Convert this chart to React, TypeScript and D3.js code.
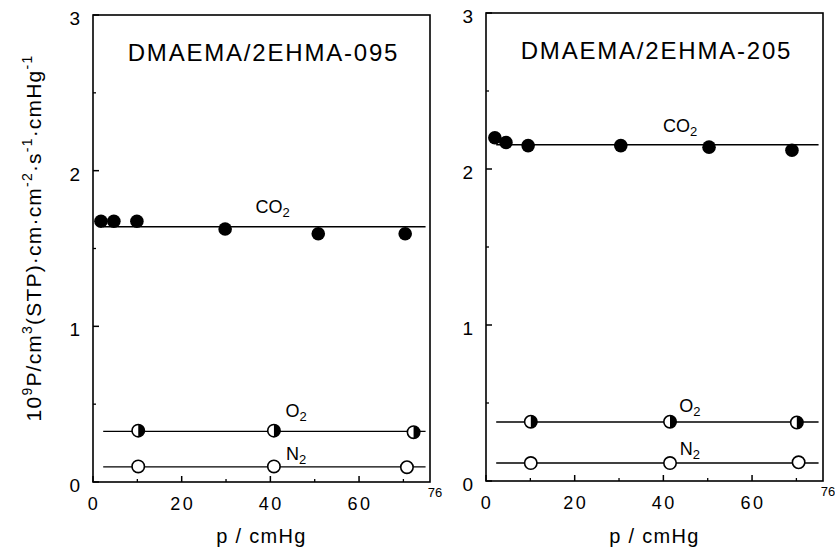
import React, { useEffect, useRef } from 'react';
import * as d3 from 'd3';

// permeability coefficient 10^9 P vs upstream pressure p (cmHg)
const titles = ['DMAEMA/2EHMA-095', 'DMAEMA/2EHMA-205'];
const xTicks = [0, 20, 40, 60];
const xMinor = [10, 30, 50, 70];
const yTicks = [0, 1, 2, 3];
const yMinor = [0.5, 1.5, 2.5];

// DMAEMA/2EHMA-095
const co2P095 = [1.8, 4.7, 9.9, 29.8, 50.8, 70.4];
const co2V095 = [1.675, 1.675, 1.675, 1.625, 1.595, 1.595];
const o2P095 = [10.2, 40.8, 72.3];
const o2V095 = [0.33, 0.33, 0.32];
const n2P095 = [10.2, 40.8, 70.8];
const n2V095 = [0.1, 0.1, 0.095];
const fit095 = { CO2: 1.64, O2: 0.325, N2: 0.097 };

// DMAEMA/2EHMA-205
const co2P205 = [2.0, 4.5, 9.5, 30.4, 50.3, 69.0];
const co2V205 = [2.2, 2.17, 2.15, 2.15, 2.14, 2.12];
const o2P205 = [10.1, 41.5, 70.1];
const o2V205 = [0.38, 0.38, 0.375];
const n2P205 = [10.1, 41.5, 70.5];
const n2V205 = [0.115, 0.115, 0.12];
const fit205 = { CO2: 2.155, O2: 0.378, N2: 0.115 };

const fitRange = [2.3, 75];

const FONT = '"Liberation Sans", Arial, Helvetica, sans-serif';

type Series = { gas: string; p: number[]; v: number[]; marker: 'filled' | 'half' | 'open' };

const panels = [
  {
    title: titles[0],
    frame: { left: 93, right: 430, top: 15, bottom: 482 },
    series: [
      { gas: 'CO2', p: co2P095, v: co2V095, marker: 'filled' },
      { gas: 'O2', p: o2P095, v: o2V095, marker: 'half' },
      { gas: 'N2', p: n2P095, v: n2V095, marker: 'open' },
    ] as Series[],
    fit: fit095,
    labels: { CO2: [40.5, 1.73], O2: [45.8, 0.42], N2: [45.8, 0.14] },
  },
  {
    title: titles[1],
    frame: { left: 486, right: 823, top: 13, bottom: 481 },
    series: [
      { gas: 'CO2', p: co2P205, v: co2V205, marker: 'filled' },
      { gas: 'O2', p: o2P205, v: o2V205, marker: 'half' },
      { gas: 'N2', p: n2P205, v: n2V205, marker: 'open' },
    ] as Series[],
    fit: fit205,
    labels: { CO2: [43.8, 2.24], O2: [46, 0.44], N2: [46, 0.167] },
  },
];

const App = () => {
  const ref = useRef<SVGSVGElement>(null);

  useEffect(() => {
    const svg = d3.select(ref.current);
    svg.selectAll('*').remove();

    panels.forEach(panel => {
      const f = panel.frame;
      const x = d3.scaleLinear().domain([0, 76]).range([f.left, f.right]);
      const y = d3.scaleLinear().domain([0, 3]).range([f.bottom, f.top]);
      const g = svg.append('g');

      // frame
      g.append('rect')
        .attr('x', f.left).attr('y', f.top)
        .attr('width', f.right - f.left).attr('height', f.bottom - f.top)
        .attr('fill', 'none').attr('stroke', '#000').attr('stroke-width', 1.6);

      // ticks, pointing inward
      xTicks.forEach(t => {
        g.append('line').attr('x1', x(t)).attr('x2', x(t))
          .attr('y1', f.bottom).attr('y2', f.bottom - 6)
          .attr('stroke', '#000').attr('stroke-width', 1.5);
        g.append('text').attr('x', x(t) + 1).attr('y', f.bottom + 28)
          .attr('text-anchor', 'middle').attr('font-size', 18)
          .attr('letter-spacing', 2.5).attr('font-family', FONT)
          .text(t);
      });
      xMinor.forEach(t => {
        g.append('line').attr('x1', x(t)).attr('x2', x(t))
          .attr('y1', f.bottom).attr('y2', f.bottom - 3)
          .attr('stroke', '#000').attr('stroke-width', 1.3);
      });
      g.append('text').attr('x', f.right + 5).attr('y', f.bottom + 15)
        .attr('text-anchor', 'middle').attr('font-size', 13)
        .attr('font-family', FONT).text('76');

      yTicks.forEach(t => {
        g.append('line').attr('x1', f.left).attr('x2', f.left + 6)
          .attr('y1', y(t)).attr('y2', y(t))
          .attr('stroke', '#000').attr('stroke-width', 1.5);
        g.append('text').attr('x', f.left - 13).attr('y', y(t) + 10)
          .attr('text-anchor', 'end').attr('font-size', 19)
          .attr('font-family', FONT).text(t);
      });
      yMinor.forEach(t => {
        g.append('line').attr('x1', f.left).attr('x2', f.left + 3)
          .attr('y1', y(t)).attr('y2', y(t))
          .attr('stroke', '#000').attr('stroke-width', 1.3);
      });

      // axis title
      g.append('text')
        .attr('x', (f.left + f.right) / 2).attr('y', 543)
        .attr('text-anchor', 'middle').attr('font-size', 20)
        .attr('letter-spacing', 1.3).attr('font-family', FONT)
        .text('p / cmHg');

      // panel title
      g.append('text')
        .attr('x', (f.left + f.right) / 2 + 2).attr('y', f.top + 46)
        .attr('text-anchor', 'middle').attr('font-size', 24)
        .attr('letter-spacing', 1.8).attr('font-family', FONT)
        .text(panel.title);

      // fitted lines
      panel.series.forEach(s => {
        const level = (panel.fit as any)[s.gas];
        g.append('path')
          .datum(fitRange)
          .attr('fill', 'none').attr('stroke', '#000').attr('stroke-width', 1.4)
          .attr('d', d3.line<number>().x(d => x(d)).y(() => y(level)));
      });

      // markers
      const r = 6.2;
      panel.series.forEach(s => {
        s.p.forEach((p, i) => {
          const cx = x(p);
          const cy = y(s.v[i]);
          if (s.marker === 'filled') {
            g.append('circle').attr('cx', cx).attr('cy', cy).attr('r', r + 0.6).attr('fill', '#000');
          } else {
            g.append('circle').attr('cx', cx).attr('cy', cy).attr('r', r)
              .attr('fill', '#fff').attr('stroke', '#000').attr('stroke-width', 1.6);
            if (s.marker === 'half') {
              const arc = d3.arc()({ innerRadius: 0, outerRadius: r, startAngle: 0, endAngle: Math.PI } as any);
              g.append('path').attr('d', arc as string)
                .attr('transform', `translate(${cx},${cy})`).attr('fill', '#000');
            }
          }
        });
      });

      // gas labels with subscripts
      Object.entries(panel.labels).forEach(([gas, pos]) => {
        const t = g.append('text')
          .attr('x', x(pos[0])).attr('y', y(pos[1]))
          .attr('text-anchor', 'middle').attr('font-size', 18)
          .attr('font-family', FONT);
        t.append('tspan').text(gas.slice(0, -1));
        t.append('tspan').attr('font-size', 13).attr('dy', 4).text(gas.slice(-1));
      });
    });

    // y axis title
    const yl = svg.append('text')
      .attr('transform', 'translate(41,238) rotate(-90)')
      .attr('text-anchor', 'middle').attr('font-size', 21)
      .attr('letter-spacing', 1.2).attr('font-family', FONT);
    const parts: [string, boolean][] = [
      ['10', false], ['9', true], ['P/cm', false], ['3', true], ['(STP)·cm·cm', false],
      ['-2', true], ['·s', false], ['-1', true], ['·cmHg', false], ['-1', true],
    ];
    let up = false;
    parts.forEach(([s, sup]) => {
      const ts = yl.append('tspan').text(s);
      if (sup && !up) { ts.attr('dy', -9).attr('font-size', 14); up = true; }
      else if (sup) { ts.attr('font-size', 14); }
      else if (up) { ts.attr('dy', 9); up = false; }
    });
  }, []);

  return (
    <svg ref={ref} width={835} height={550}
      style={{ position: 'absolute', left: 0, top: 0, background: '#fff' }} />
  );
};

export default App;
